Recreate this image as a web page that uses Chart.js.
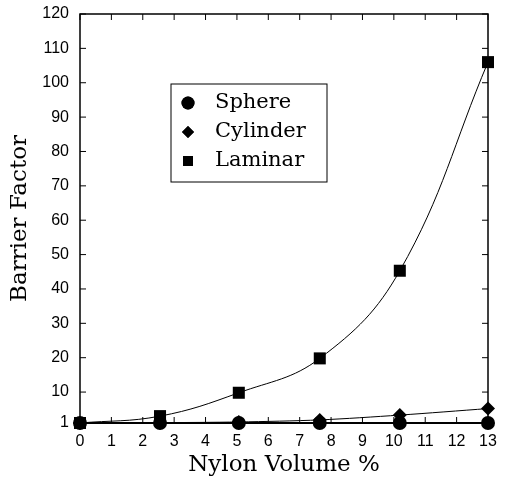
<!DOCTYPE html>
<html>
<head>
<meta charset="utf-8">
<script src="https://cdn.jsdelivr.net/npm/chart.js@4"></script>
<style>
  html, body { margin: 0; padding: 0; background: #fff; }
</style>
</head>
<body>
<canvas id="chart" width="509" height="481"></canvas>
<script>
// values
const nylonVolume = [0, 2.55, 5.06, 7.64, 10.19, 13];
const sphere = [1, 1, 1, 1, 1, 1];
const cylinder = [1, 1.1, 1.3, 1.9, 3.3, 5.2];
const laminar = [1, 3, 9.8, 19.8, 45.3, 106];
const xTicks = [0, 1, 2, 3, 4, 5, 6, 7, 8, 9, 10, 11, 12, 13];
const yTicks = [1, 10, 20, 30, 40, 50, 60, 70, 80, 90, 100, 110, 120];

const toPoints = (ys) => nylonVolume.map((x, i) => ({ x, y: ys[i] }));

// frame + inward tick marks on all four sides
const framePlugin = {
  id: "frame",
  afterDatasetsDraw(chart) {
    const { ctx, chartArea: a, scales } = chart;
    const len = 6;
    ctx.save();
    ctx.strokeStyle = "#000";
    ctx.lineWidth = 1.5;
    ctx.strokeRect(a.left, a.top, a.right - a.left, a.bottom - a.top);
    ctx.lineWidth = 1;
    ctx.beginPath();
    xTicks.forEach((v) => {
      const px = scales.x.getPixelForValue(v);
      ctx.moveTo(px, a.bottom);
      ctx.lineTo(px, a.bottom - len);
      ctx.moveTo(px, a.top);
      ctx.lineTo(px, a.top + len);
    });
    yTicks.forEach((v) => {
      if (v === 1) return;
      const py = scales.y.getPixelForValue(v);
      ctx.moveTo(a.left, py);
      ctx.lineTo(a.left + len, py);
      ctx.moveTo(a.right, py);
      ctx.lineTo(a.right - len, py);
    });
    ctx.stroke();
    ctx.restore();
  },
};

// boxed legend placed inside the plot
const boxLegend = {
  id: "boxLegend",
  afterDraw(chart) {
    const { ctx, chartArea: a } = chart;
    const x0 = a.left + 91, y0 = a.top + 70, w = 156, h = 98;
    ctx.save();
    ctx.fillStyle = "#fff";
    ctx.fillRect(x0, y0, w, h);
    ctx.strokeStyle = "#000";
    ctx.lineWidth = 1;
    ctx.strokeRect(x0, y0, w, h);
    const markers = [
      { style: "circle", r: 6.5 },
      { style: "rectRot", r: 6 },
      { style: "rect", r: 7 },
    ];
    ctx.font = "21px 'DejaVu Serif'";
    ctx.textBaseline = "middle";
    chart.data.datasets.forEach((ds, i) => {
      const cy = y0 + 19 + i * 29;
      ctx.fillStyle = "#000";
      Chart.helpers.drawPoint(ctx, { pointStyle: markers[i].style, radius: markers[i].r, rotation: 0, borderWidth: 0 }, x0 + 17, cy);
      ctx.fill();
      ctx.fillText(ds.label, x0 + 44, cy);
    });
    ctx.restore();
  },
};

const lineStyle = {
  borderColor: "#000",
  backgroundColor: "#000",
  pointBackgroundColor: "#000",
  pointBorderColor: "#000",
  pointBorderWidth: 0,
  clip: false,
  fill: false,
  showLine: true,
};

const tickFont = { family: "'Liberation Sans', Arial, sans-serif", size: 16 };
const titleFont = { family: "'DejaVu Serif', serif", size: 23 };

new Chart(document.getElementById("chart"), {
  type: "scatter",
  data: {
    datasets: [
      { ...lineStyle, label: "Sphere", data: toPoints(sphere), borderWidth: 2, pointStyle: "circle", pointRadius: 7 },
      { ...lineStyle, label: "Cylinder", data: toPoints(cylinder), borderWidth: 1, pointStyle: "rectRot", pointRadius: 7, tension: 0.3 },
      { ...lineStyle, label: "Laminar", data: toPoints(laminar), borderWidth: 1, pointStyle: "rect", pointRadius: 8.5, tension: 0.4 },
    ],
  },
  options: {
    responsive: false,
    animation: false,
    layout: { padding: { top: 14, right: 21, left: 0, bottom: 0 } },
    plugins: { legend: { display: false }, tooltip: { enabled: false } },
    scales: {
      x: {
        type: "linear",
        min: 0,
        max: 13,
        afterBuildTicks: (s) => { s.ticks = xTicks.map((v) => ({ value: v })); },
        afterFit: (s) => { s.height = 58; s.paddingLeft = 0; s.paddingRight = 0; },
        grid: { display: false, drawTicks: false },
        border: { display: false },
        ticks: { color: "#000", padding: 9, font: tickFont },
        title: { display: true, text: "Nylon Volume %", color: "#000", padding: { top: 4, bottom: 2 }, font: titleFont },
      },
      y: {
        type: "linear",
        min: 1,
        max: 120,
        afterBuildTicks: (s) => { s.ticks = yTicks.map((v) => ({ value: v })); },
        afterFit: (s) => { s.width = 80; s.paddingTop = 0; s.paddingBottom = 0; },
        grid: { display: false, drawTicks: false },
        border: { display: false },
        ticks: { color: "#000", padding: 11, font: tickFont },
        title: { display: true, text: "Barrier Factor", color: "#000", padding: { top: 6, bottom: 0 }, font: titleFont },
      },
    },
  },
  plugins: [framePlugin, boxLegend],
});
</script>
</body>
</html>
